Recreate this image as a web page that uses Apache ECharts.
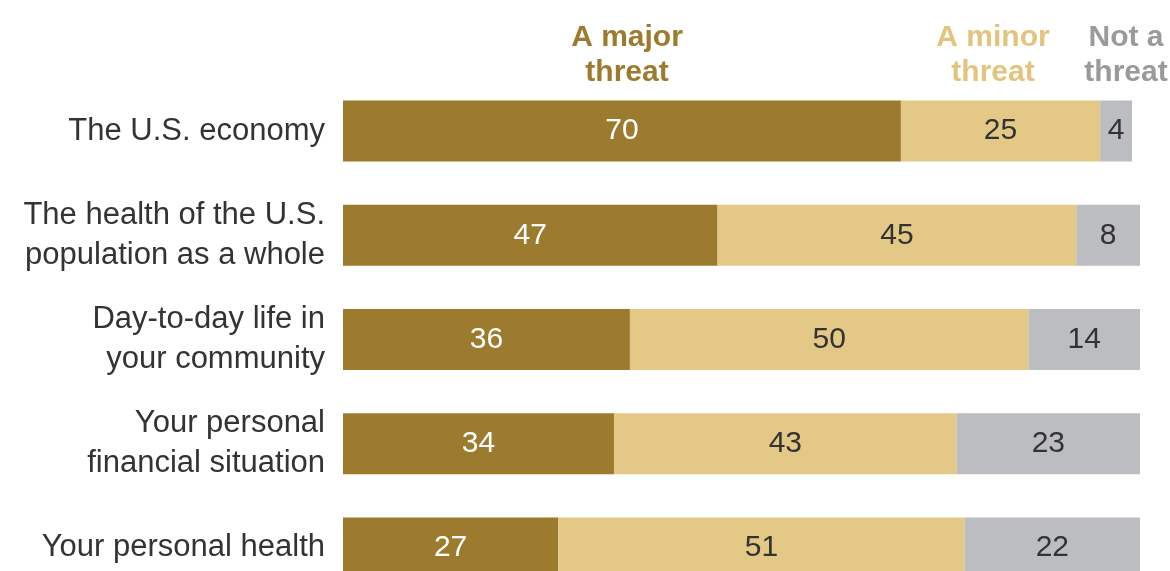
<!DOCTYPE html>
<html>
<head>
<meta charset="utf-8">
<script src="https://cdn.jsdelivr.net/npm/echarts@6/dist/echarts.min.js"></script>
<style>
  html, body { margin: 0; padding: 0; background: #fff; overflow: hidden; }
  #chart { width: 1170px; height: 620px; }
</style>
</head>
<body>
<div id="chart"></div>
<script>
const categories = [
  'The U.S. economy',
  'The health of the U.S.\npopulation as a whole',
  'Day-to-day life in\nyour community',
  'Your personal\nfinancial situation',
  'Your personal health'
];
const majorThreat = [70, 47, 36, 34, 27];
const minorThreat = [25, 45, 50, 43, 51];
const notThreat = [4, 8, 14, 23, 22];

const seriesNames = ['A major\nthreat', 'A minor\nthreat', 'Not a\nthreat'];
const colors = ['#9c7b2e', '#e4c986', '#bcbdc0'];
const headerColors = ['#9c7b2e', '#e2c47e', '#9a9a9a'];
const headerX = [627, 993, 1126];

const chart = echarts.init(document.getElementById('chart'));

function makeSeries(name, data, color, labelColor) {
  return {
    name: name,
    type: 'bar',
    stack: 'total',
    data: data,
    barWidth: 61,
    itemStyle: { color: color },
    label: {
      show: true,
      position: 'inside',
      color: labelColor,
      fontSize: 30,
      fontFamily: 'Arial, "Liberation Sans", sans-serif'
    }
  };
}

chart.setOption({
  animation: false,
  grid: { left: 343, top: 79, width: 797, height: 521 },
  xAxis: {
    type: 'value',
    min: 0,
    max: 100,
    show: false
  },
  yAxis: {
    type: 'category',
    inverse: true,
    data: categories,
    axisLine: { show: false },
    axisTick: { show: false },
    axisLabel: {
      margin: 18,
      color: '#333',
      fontSize: 31,
      lineHeight: 40,
      fontFamily: 'Arial, "Liberation Sans", sans-serif',
      align: 'right'
    }
  },
  graphic: seriesNames.map((t, i) => ({
    type: 'text',
    x: headerX[i],
    y: 20,
    style: {
      text: t,
      fill: headerColors[i],
      font: 'bold 30px "Liberation Sans Narrow", "Arial Narrow", sans-serif',
      textAlign: 'center',
      lineHeight: 35
    }
  })),
  series: [
    makeSeries('A major threat', majorThreat, colors[0], '#fff'),
    makeSeries('A minor threat', minorThreat, colors[1], '#333'),
    makeSeries('Not a threat', notThreat, colors[2], '#333')
  ]
});
</script>
</body>
</html>
